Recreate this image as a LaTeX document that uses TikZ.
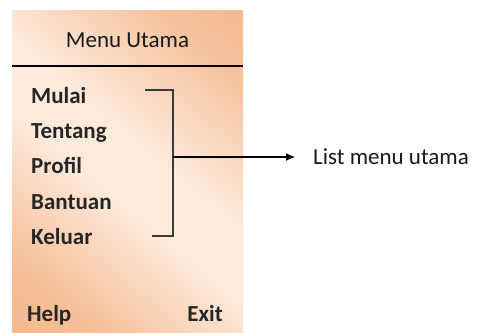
\documentclass[tikz,border=0pt]{standalone}
\usepackage{fontspec}
\setmainfont{Carlito}
\usetikzlibrary{
    arrows.meta,
    positioning,
    calc,
    backgrounds,
}
\definecolor{panelorange}{HTML}{F3AE7E}
\definecolor{panellight}{HTML}{FDEADB}
\definecolor{bracketgray}{HTML}{3A3A3A}
\pgfdeclareverticalshading{panelshade}{100bp}{
    color(0bp)=(panelorange); color(25bp)=(panelorange!70!panellight);
    color(45bp)=(panellight); color(55bp)=(panellight);
    color(75bp)=(panelorange!65!panellight); color(100bp)=(panelorange)}

\begin{document}
\begin{tikzpicture}[
    x=1pt, y=-1pt,
    node distance= 12pt,
    title/.style={inner sep=0pt, font=\fontsize{23}{28}\selectfont, text=black!90},
    item/.style={inner sep=0pt, text height=17pt, text depth=6pt, anchor=base west,
                font=\fontsize{23}{28}\selectfont\bfseries, text=black!85},
    bracket/.style={draw=bracketgray, line width=1.4pt},
    pointer/.style={draw=black, line width=1.1pt, -{Latex[length=9pt,width=8pt]}},
]
\useasboundingbox (0,0) rectangle (481,332);

% panel
\shade[shading=panelshade, shading angle=-40] (12,10) rectangle (243,332);
\draw[line width=1.2pt] (12,66) -- (243,66);

\node[title, anchor=base] at (127.5,47) (menutitle) {Menu Utama};

\node[item] at (31,103) (mulai) {Mulai};
\node[item] (tentang) [below=of mulai.south west, anchor=north west] {Tentang};
\node[item] (profil) [below=of tentang.south west, anchor=north west] {Profil};
\node[item] (bantuan) [below=of profil.south west, anchor=north west] {Bantuan};
\node[item] (keluar) [below=of bantuan.south west, anchor=north west] {Keluar};

\node[item] at (27,321) (help) {Help};
\node[item, anchor=base east] at (223,321) (exit) {Exit};

% bracket
\coordinate (brtop) at (145,90);
\coordinate (brbot) at (152,236);
\coordinate (brtopc) at (173,90);
\coordinate (brbotc) at (173,236);
\coordinate (brmid) at (173,157);
\draw[bracket] (brtop) -- (brtopc) -- (brbotc) -- (brbot);

\node[title, anchor=west] at (313,157) (listlabel) {List menu utama};
\draw[pointer] (brmid) -- ([xshift=-18pt]brmid -| listlabel.west);

\end{tikzpicture}
\end{document}
